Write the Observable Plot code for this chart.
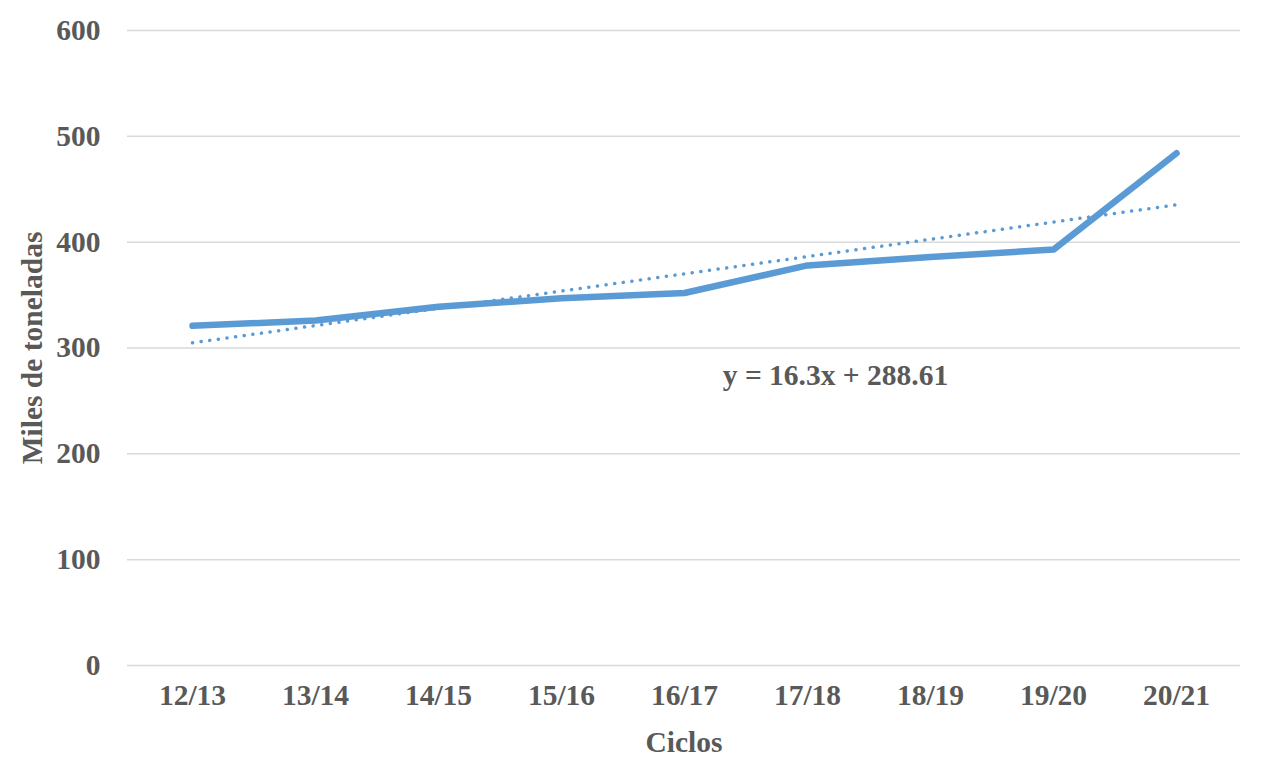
<!DOCTYPE html>
<html>
<head>
<meta charset="utf-8">
<script src="https://cdn.jsdelivr.net/npm/d3@7"></script>
<script src="https://cdn.jsdelivr.net/npm/@observablehq/plot@0.6"></script>
<style>
  html, body { margin: 0; padding: 0; background: #fff; }
</style>
</head>
<body>
<div id="chart"></div>
<script>
const ciclos = ["12/13","13/14","14/15","15/16","16/17","17/18","18/19","19/20","20/21"];
const toneladas = [321, 326, 339, 347, 352, 378, 386, 393, 484];
const trendCiclos = ["12/13", "20/21"];
const trendValues = [304.91, 435.31];
const yTicks = [0, 100, 200, 300, 400, 500, 600];
const equation = "y = 16.3x + 288.61";

const data = ciclos.map((c, i) => ({ciclo: c, valor: toneladas[i]}));
const trend = trendCiclos.map((c, i) => ({ciclo: c, valor: trendValues[i]}));

const blue = "#5B9BD5";
const grey = "#595959";

const chart = Plot.plot({
  width: 1265,
  height: 774,
  marginLeft: 127,
  marginRight: 25,
  marginTop: 30,
  marginBottom: 109,
  style: {
    fontFamily: "'Liberation Serif', 'Times New Roman', serif",
    fontSize: "29.5px",
    fontWeight: "bold",
    color: grey,
    background: "#fff"
  },
  x: {type: "point", domain: ciclos, padding: 0.5},
  y: {domain: [0, 600]},
  marks: [
    Plot.gridY(yTicks, {stroke: "#d9d9d9", strokeOpacity: 1, strokeWidth: 1.5}),
    Plot.axisY(yTicks, {tickSize: 0, tickPadding: 27, label: "Miles de toneladas", labelAnchor: "center", labelArrow: "none", labelOffset: 106}),
    Plot.axisX({tickSize: 0, tickPadding: 19, label: "Ciclos", labelAnchor: "center", labelArrow: "none", labelOffset: 86}),
    Plot.line(trend, {x: "ciclo", y: "valor", stroke: blue, strokeWidth: 3.5, strokeDasharray: "0.1 8.6", strokeLinecap: "round"}),
    Plot.line(data, {x: "ciclo", y: "valor", stroke: blue, strokeWidth: 6.5, strokeLinecap: "round", strokeLinejoin: "round"}),
    Plot.text([equation], {x: () => "17/18", y: () => 274, text: d => d, dx: 28, fill: grey, fontSize: 29.5, fontWeight: "bold"})
  ]
});
document.getElementById("chart").appendChild(chart);
</script>
</body>
</html>
